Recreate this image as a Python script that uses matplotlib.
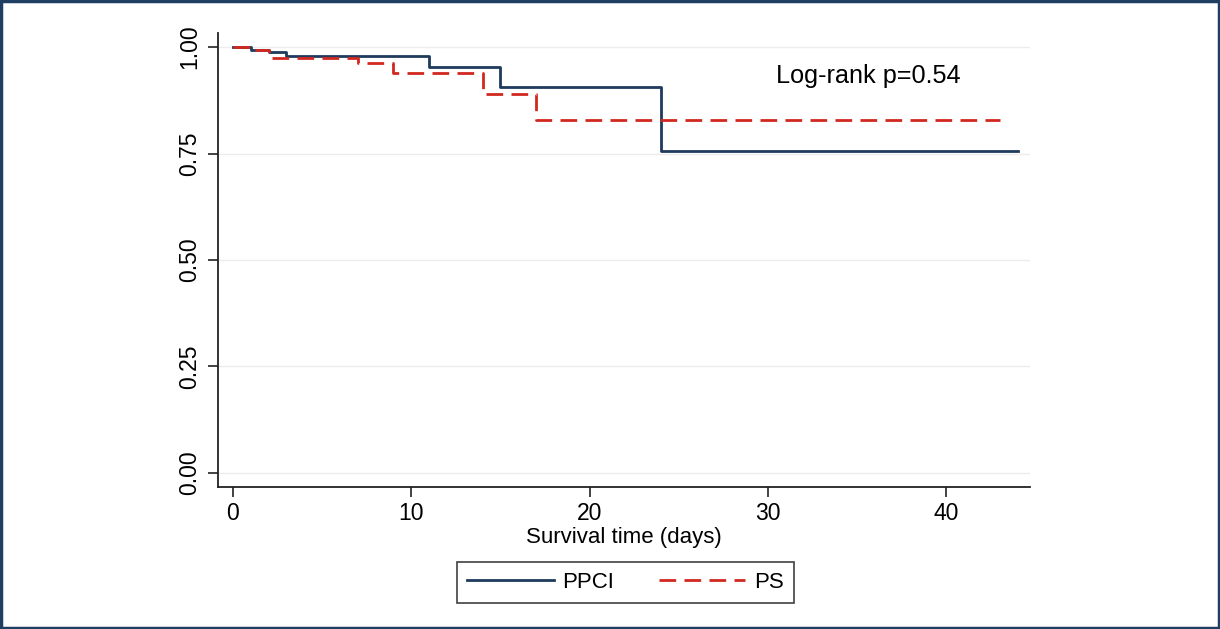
import matplotlib
matplotlib.use("Agg")
import matplotlib.pyplot as plt
from matplotlib.patches import Rectangle
from matplotlib.lines import Line2D

plt.rcParams['font.family'] = ['Liberation Sans', 'DejaVu Sans']

# Kaplan-Meier step data
ppci_time = [0, 1, 2, 3, 11, 15, 24, 44]
ppci_surv = [1.000, 0.993, 0.988, 0.980, 0.952, 0.907, 0.757, 0.757]
ps_time = [0, 1, 2, 7, 9, 14, 17, 43]
ps_surv = [1.000, 0.993, 0.975, 0.962, 0.940, 0.890, 0.828, 0.828]

series_labels = ["PPCI", "PS"]
x_ticks = [0, 10, 20, 30, 40]
y_ticks = [0.00, 0.25, 0.50, 0.75, 1.00]
y_tick_labels = ["0.00", "0.25", "0.50", "0.75", "1.00"]
x_label = "Survival time (days)"
annotation = "Log-rank p=0.54"

navy = '#1e3a5c'
red = '#d1281f'

fig = plt.figure(figsize=(12.2, 6.29), dpi=100)
fig.patch.set_facecolor('white')
ax = fig.add_axes([218/1220, 1-487/629, (1030-218)/1220, (487-33)/629])
ax.set_facecolor('white')

ax.set_xlim(-0.84, 44.7)
ax.set_ylim(-0.033, 1.033)

for y in y_ticks:
    ax.axhline(y, color='#ececec', lw=1.0, zorder=0)

ax.step(ppci_time, ppci_surv, where='post', color=navy, lw=2.0, label=series_labels[0], zorder=3)
ax.step(ps_time, ps_surv, where='post', color=red, lw=2.0, dashes=(6, 3), label=series_labels[1], zorder=4)

ax.set_xticks(x_ticks)
ax.set_yticks(y_ticks)
ax.set_yticklabels(y_tick_labels)
ax.tick_params(axis='both', length=7, width=1.2, color='#222222')
ax.tick_params(axis='x', pad=4, labelsize=16.5)
ax.tick_params(axis='y', pad=5, labelsize=16.5)
for lab in ax.get_yticklabels():
    lab.set_rotation(90)
    lab.set_va('center')

for s in ['top', 'right']:
    ax.spines[s].set_visible(False)
for s in ['left', 'bottom']:
    ax.spines[s].set_color('#222222')
    ax.spines[s].set_linewidth(1.3)

ax.set_xlabel(x_label, fontsize=16, labelpad=1)

ax.text(30.45, 0.932, annotation, fontsize=18.2, ha='left', va='center')

handles = [Line2D([], [], color=navy, lw=2.0),
           Line2D([], [], color=red, lw=2.0, dashes=(6, 3))]
leg = fig.legend(handles, series_labels, ncol=2, loc='center',
                 bbox_to_anchor=(625.5/1220, 1-582.5/629), fontsize=16,
                 frameon=True, fancybox=False, edgecolor='#111111',
                 handlelength=3.9, columnspacing=2.0, handletextpad=0.4,
                 borderpad=0.45, borderaxespad=0)
leg.get_frame().set_linewidth(1.2)

fig.patches.append(Rectangle((0.001, 0.002), 0.998, 0.996, transform=fig.transFigure,
                             fill=False, edgecolor='#1f3f62', lw=2.5))

fig.savefig('out.png', dpi=100, facecolor='white')
